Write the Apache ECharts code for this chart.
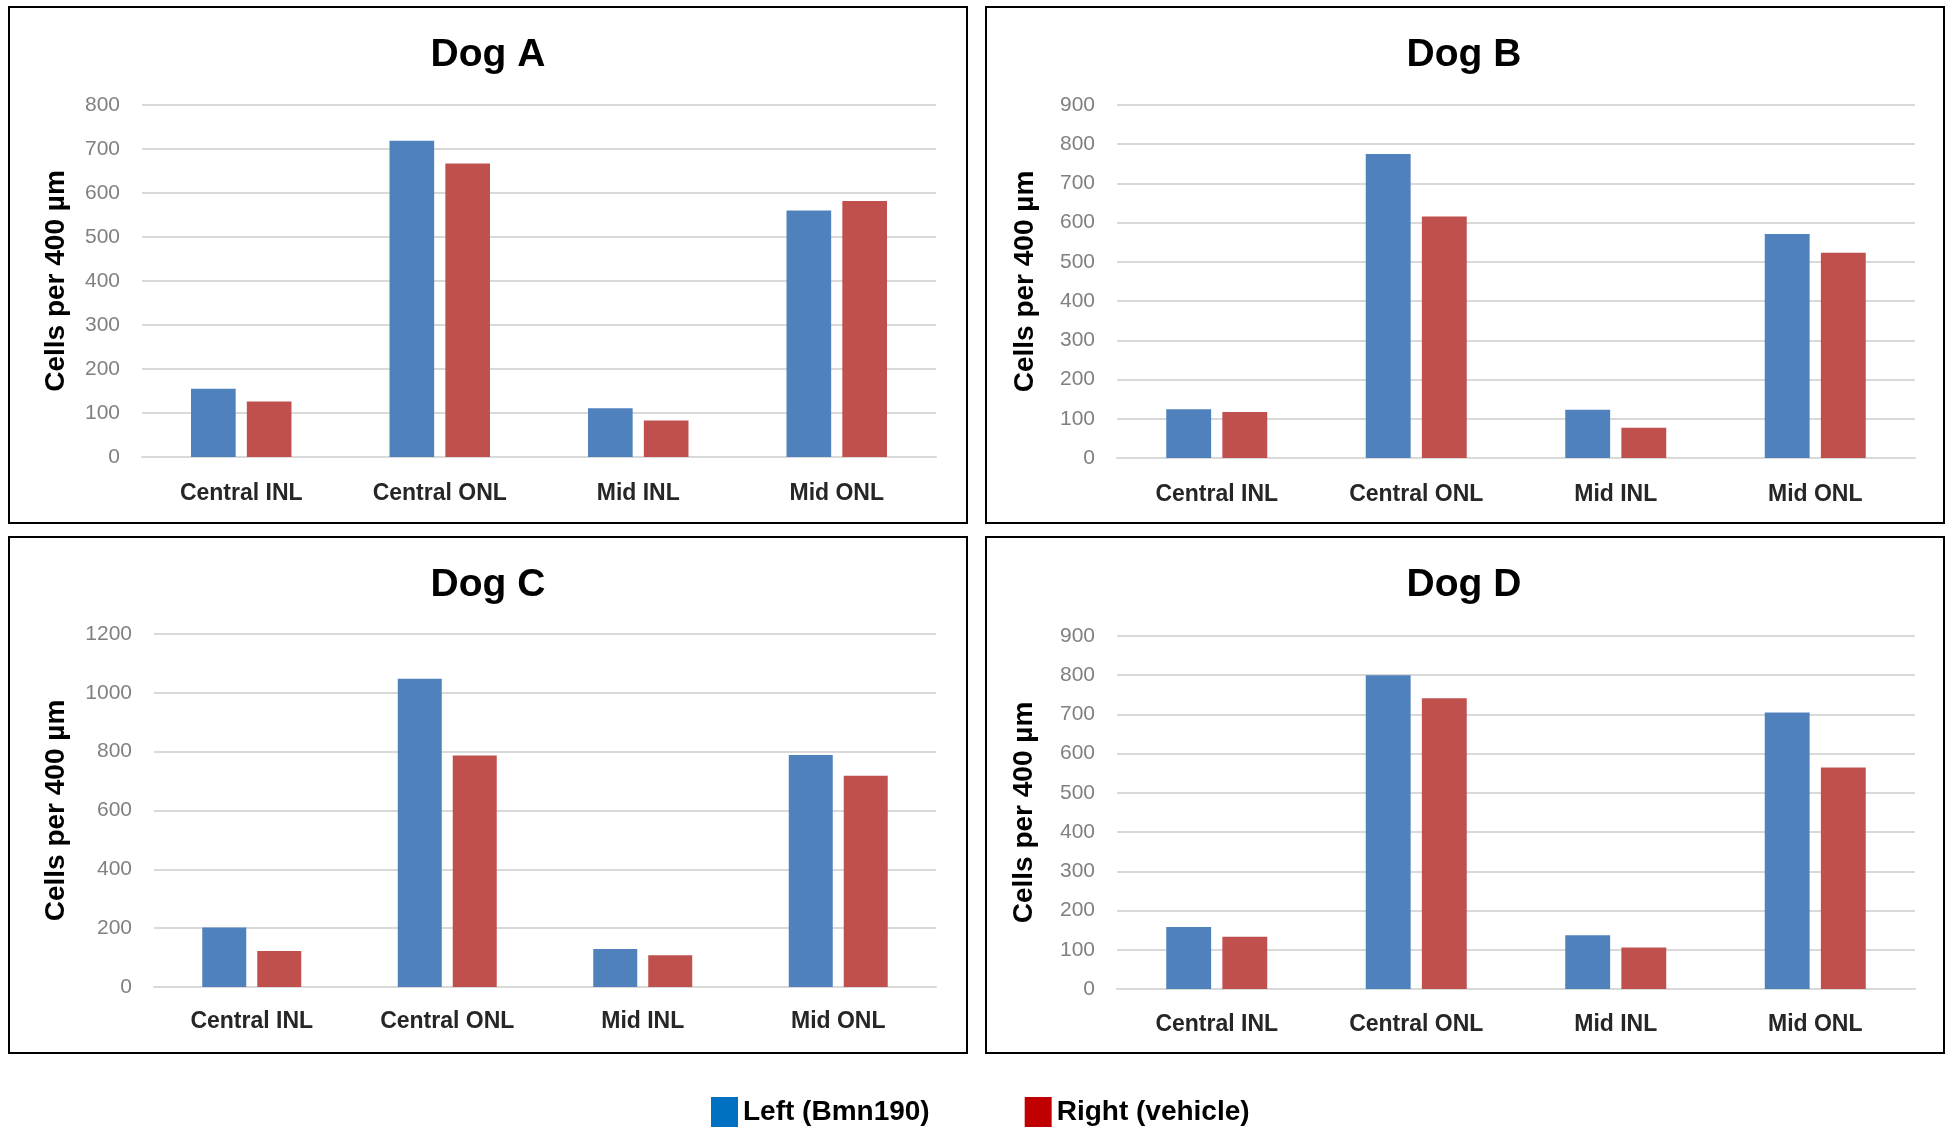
<!DOCTYPE html>
<html>
<head>
<meta charset="utf-8">
<script src="https://cdn.jsdelivr.net/npm/echarts@6/dist/echarts.min.js"></script>
<style>
html,body{margin:0;padding:0;background:#fff;}
#chart{width:1950px;height:1138px;}
</style>
</head>
<body>
<div id="chart"></div>
<script>
const categories = ['Central INL', 'Central ONL', 'Mid INL', 'Mid ONL'];
const panelTitles = ['Dog A', 'Dog B', 'Dog C', 'Dog D'];
const seriesNames = ['Left (Bmn190)', 'Right (vehicle)'];
const yAxisName = 'Cells per 400 \u00b5m';

const dogA_left  = [155, 719, 111, 560];
const dogA_right = [126, 667, 83, 582];
const dogB_left  = [124, 775, 123, 571];
const dogB_right = [117, 616, 77, 523];
const dogC_left  = [202, 1048, 129, 789];
const dogC_right = [122, 787, 108, 718];
const dogD_left  = [158, 800, 137, 705];
const dogD_right = [133, 741, 106, 565];

const yMax = [800, 900, 1200, 900];
const yStep = [100, 100, 200, 100];

const leftData = [dogA_left, dogB_left, dogC_left, dogD_left];
const rightData = [dogA_right, dogB_right, dogC_right, dogD_right];

const barBlue = '#4F81BD', barRed = '#C0504D';
const legBlue = '#0070C0', legRed = '#C00000';

const grids = [
  {left: 142, right: 1014, top: 105, bottom: 681},
  {left: 1117, right: 35, top: 105, bottom: 680},
  {left: 154, right: 1014, top: 634, bottom: 151},
  {left: 1117, right: 35, top: 636, bottom: 149}
];
const nameGaps = [72, 78, 84, 79];
const labelMargins = [25, 25, 23, 24];
const titlePos = [{x: 483, y: 31}, {x: 1459, y: 31}, {x: 483, y: 561}, {x: 1459, y: 561}];
const frames = [
  {x: 9, y: 7, w: 958, h: 516},
  {x: 986, y: 7, w: 958, h: 516},
  {x: 9, y: 537, w: 958, h: 516},
  {x: 986, y: 537, w: 958, h: 516}
];

const labelFont = "'Liberation Sans', Arial, sans-serif";

const option = {
  backgroundColor: '#fff',
  animation: false,
  title: panelTitles.map((t, i) => ({
    text: t,
    left: titlePos[i].x,
    top: titlePos[i].y,
    textAlign: 'center',
    textStyle: {fontFamily: labelFont, fontWeight: 'bold', fontSize: 39, color: '#000'}
  })),
  legend: {
    left: 706,
    top: 1092,
    itemWidth: 27,
    itemHeight: 30,
    itemGap: 95,
    textStyle: {fontFamily: labelFont, fontWeight: 'bold', fontSize: 28, color: '#000'},
    data: [
      {name: seriesNames[0], icon: 'rect', itemStyle: {color: legBlue}},
      {name: seriesNames[1], icon: 'rect', itemStyle: {color: legRed}}
    ]
  },
  graphic: frames.map(f => ({
    type: 'rect',
    shape: {x: f.x, y: f.y, width: f.w, height: f.h},
    style: {fill: 'none', stroke: '#000', lineWidth: 2},
    silent: true,
    z: -1
  })),
  grid: grids,
  xAxis: grids.map((g, i) => ({
    type: 'category',
    gridIndex: i,
    data: categories,
    axisLine: {show: true, lineStyle: {color: '#d9d9d9', width: 2}},
    axisTick: {show: false},
    axisLabel: {margin: labelMargins[i], fontFamily: labelFont, fontWeight: 'bold', fontSize: 23, color: '#262626'}
  })),
  yAxis: grids.map((g, i) => ({
    type: 'value',
    gridIndex: i,
    min: 0,
    max: yMax[i],
    interval: yStep[i],
    name: yAxisName,
    nameLocation: 'middle',
    nameRotate: 90,
    nameGap: nameGaps[i],
    nameTextStyle: {fontFamily: labelFont, fontWeight: 'bold', fontSize: 28, color: '#000'},
    axisLine: {show: false},
    axisTick: {show: false},
    axisLabel: {margin: 22, fontFamily: labelFont, fontSize: 21, color: '#808080', formatter: v => String(v)},
    splitLine: {show: true, lineStyle: {color: '#d9d9d9', width: 2}}
  })),
  series: []
};

for (let i = 0; i < 4; i++) {
  option.series.push({
    name: seriesNames[0], type: 'bar', xAxisIndex: i, yAxisIndex: i,
    data: leftData[i], barWidth: '22.5%', barGap: '25%',
    itemStyle: {color: barBlue}
  });
  option.series.push({
    name: seriesNames[1], type: 'bar', xAxisIndex: i, yAxisIndex: i,
    data: rightData[i], barWidth: '22.5%', barGap: '25%',
    itemStyle: {color: barRed}
  });
}

const chart = echarts.init(document.getElementById('chart'), null, {renderer: 'canvas'});
chart.setOption(option);
</script>
</body>
</html>
